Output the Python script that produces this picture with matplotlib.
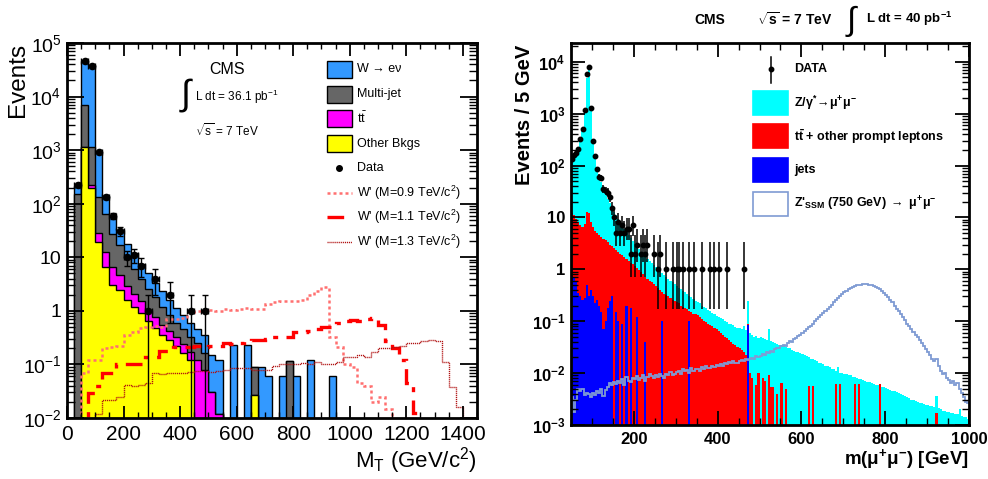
import math
import numpy as np
import matplotlib
matplotlib.use("Agg")
import matplotlib.pyplot as plt
from matplotlib.patches import Rectangle
from matplotlib.lines import Line2D
from matplotlib.ticker import MultipleLocator, FixedLocator, FixedFormatter, LogLocator, NullFormatter

plt.rcParams['font.family'] = ['Liberation Sans', 'DejaVu Sans']
plt.rcParams['mathtext.fontset'] = 'custom'
plt.rcParams['mathtext.rm'] = 'Liberation Sans'
plt.rcParams['mathtext.it'] = 'Liberation Sans:italic'
plt.rcParams['mathtext.bf'] = 'Liberation Sans:bold'
plt.rcParams['mathtext.sf'] = 'Liberation Sans'

# ---------------- LEFT PANEL DATA (M_T, 25 GeV bins, 0-1450) ----------------
mt_edges = np.arange(0, 1451, 25)
other_bkg = [0, 0, 1150, 200, 19.5, 6.6, 3.0, 2.5, 1.6, 1.2, 0.9, 0.65, 0.48, 0.36, 0.28, 0.22, 0.16, 0.12, 0, 0,
             0, 0, 0, 0, 0, 0, 0.027, 0, 0, 0, 0, 0, 0, 0, 0, 0, 0, 0, 0, 0,
             0, 0, 0, 0, 0, 0, 0, 0, 0, 0, 0, 0, 0, 0, 0, 0, 0, 0]
ttbar = [0, 0, 10, 22, 9.5, 6, 3.6, 2.1, 1.3, 0.9, 0.6, 0.4, 0.3, 0.19, 0.14, 0.1, 0.08, 0.05, 0.12, 0.08,
         0.03, 0.012, 0, 0, 0, 0, 0, 0, 0, 0, 0, 0, 0, 0, 0, 0, 0, 0, 0, 0,
         0, 0, 0, 0, 0, 0, 0, 0, 0, 0, 0, 0, 0, 0, 0, 0, 0, 0]
multijet = [0, 155, 5940, 928, 105, 53, 21, 12.4, 6.6, 3.9, 2.5, 1.55, 1.0, 0.65, 0.43, 0.28, 0.21, 0.15, 0.13, 0.08,
            0, 0, 0, 0, 0, 0, 0.063, 0, 0, 0, 0, 0.116, 0, 0, 0, 0, 0, 0, 0, 0,
            0, 0, 0, 0, 0, 0, 0, 0, 0, 0, 0, 0, 0, 0, 0, 0, 0, 0]
w_enu = [0, 58, 38900, 37850, 796, 74, 32, 15, 8.5, 6, 3.5, 2.4, 1.6, 1.1, 0.75, 0.55, 0.4, 0.28, 0.2, 0.19,
         0.12, 0.108, 0, 0.23, 0, 0.23, 0, 0.088, 0.06, 0, 0.06, 0, 0.06, 0, 0.12, 0, 0, 0.06, 0, 0,
         0, 0, 0, 0, 0, 0, 0, 0, 0, 0, 0, 0, 0, 0, 0, 0, 0, 0]
data_mt = [0, 224, 46000, 37000, 910, 135, 59, 31, 10, 11, 7, 1, 4, 0, 2, 0, 0, 1, 0, 1,
           0, 0, 0, 0, 0, 0, 0, 0, 0, 0, 0, 0, 0, 0, 0, 0, 0, 0, 0, 0,
           0, 0, 0, 0, 0, 0, 0, 0, 0, 0, 0, 0, 0, 0, 0, 0, 0, 0]
wprime_09 = [0, 0, 0.068, 0.12, 0.12, 0.2, 0.21, 0.22, 0.36, 0.4, 0.48, 0.5, 0.52, 0.5, 0.7, 0.72, 0.75, 0.95, 1.0, 1.0,
             1.05, 1.0, 1.1, 1.05, 1.1, 1.15, 1.1, 1.1, 1.35, 1.45, 1.5, 1.5, 1.55, 1.6, 2.0, 2.3, 2.8, 0.33, 0.21, 0.1,
             0.09, 0.045, 0.04, 0.02, 0.025, 0.015, 0, 0, 0, 0, 0, 0, 0, 0, 0, 0, 0, 0]
wprime_11 = [0, 0, 0, 0.029, 0.04, 0.068, 0.068, 0.1, 0.1, 0.1, 0.1, 0.14, 0.14, 0.18, 0.18, 0.21, 0.21, 0.21, 0.22, 0.21,
             0.22, 0.22, 0.25, 0.24, 0.25, 0.27, 0.28, 0.28, 0.3, 0.33, 0.33, 0.32, 0.4, 0.41, 0.42, 0.45, 0.5, 0.5, 0.6, 0.65,
             0.68, 0.65, 0.7, 0.75, 0.55, 0.27, 0.2, 0.12, 0.045, 0.0125, 0, 0, 0, 0, 0, 0, 0, 0]
wprime_13 = [0, 0, 0, 0, 0.012, 0.022, 0.022, 0.025, 0.041, 0.04, 0.041, 0.045, 0.068, 0.065, 0.07, 0.068, 0.07, 0.072, 0.075, 0.075,
             0.072, 0.075, 0.078, 0.085, 0.085, 0.085, 0.08, 0.08, 0.08, 0.095, 0.1, 0.1, 0.1, 0.105, 0.1, 0.11, 0.1, 0.1, 0.11, 0.14,
             0.14, 0.15, 0.14, 0.17, 0.2, 0.2, 0.21, 0.22, 0.25, 0.25, 0.27, 0.28, 0.27, 0.11, 0.038, 0.016, 0, 0]

# ---------------- RIGHT PANEL DATA (m_mumu, 5 GeV bins, 50-1000) ----------------
mm_edges = np.arange(50, 1001, 5)
dy_stack = [150, 165, 180, 215, 290, 470, 1100, 4800, 8000, 1200,
            290, 150, 95, 65, 48, 37, 29, 23, 19, 15.5,
            13, 11, 9.5, 8.2, 7.0, 6.1, 5.3, 4.6, 4.0, 3.5,
            3.1, 2.7, 2.5, 2.2, 1.95, 1.75, 1.6, 1.45, 1.3, 1.2,
            1.1, 1.0, 0.92, 0.84, 0.78, 0.72, 0.66, 0.6, 0.56, 0.52,
            0.48, 0.44, 0.41, 0.38, 0.36, 0.33, 0.3, 0.29, 0.27, 0.25,
            0.23, 0.22, 0.2, 0.19, 0.18, 0.165, 0.155, 0.145, 0.135, 0.125,
            0.12, 0.115, 0.11, 0.1, 0.095, 0.09, 0.087, 0.083, 0.078, 0.075,
            0.075, 0.072, 0.08, 0.068, 0.24, 0.06, 0.055, 0.05, 0.052, 0.048,
            0.05, 0.047, 0.045, 0.044, 0.07, 0.042, 0.04, 0.038, 0.036, 0.035,
            0.035, 0.033, 0.032, 0.031, 0.03, 0.028, 0.027, 0.026, 0.025, 0.024,
            0.023, 0.022, 0.021, 0.02, 0.019, 0.019, 0.018, 0.017, 0.016, 0.016,
            0.015, 0.014, 0.014, 0.013, 0.012, 0.012, 0.011, 0.013, 0.01, 0.01,
            0.0098, 0.0095, 0.0092, 0.009, 0.0086, 0.0083, 0.008, 0.0078, 0.0076, 0.0073,
            0.0072, 0.0068, 0.0066, 0.0064, 0.0061, 0.006, 0.0058, 0.0056, 0.0055, 0.0053,
            0.0051, 0.005, 0.0048, 0.0046, 0.0045, 0.0043, 0.0041, 0.004, 0.0038, 0.0037,
            0.0035, 0.0033, 0.0031, 0.003, 0.0029, 0.0028, 0.0027, 0.0026, 0.0025, 0.0024,
            0.0024, 0.0023, 0.0023, 0.0022, 0.0036, 0.0021, 0.002, 0.0019, 0.0019, 0.0018,
            0.0018, 0.0017, 0.0017, 0.0016, 0.0016, 0.002, 0.0015, 0.0014, 0.0014, 0.0013]
tt_stack = [12, 11, 9.5, 8, 7, 6.5, 7.5, 13, 12, 8,
            6.5, 5.5, 5, 4.5, 4.2, 3.9, 3.6, 3.3, 3.0, 2.8,
            2.6, 2.4, 2.2, 2.0, 1.85, 1.7, 1.55, 1.45, 1.35, 1.25,
            1.15, 1.05, 0.95, 0.88, 0.8, 0.72, 0.66, 0.6, 0.56, 0.52,
            0.48, 0.44, 0.4, 0.37, 0.34, 0.32, 0.3, 0.28, 0.26, 0.25,
            0.23, 0.22, 0.2, 0.19, 0.18, 0.17, 0.16, 0.15, 0.14, 0.135,
            0.13, 0.12, 0.11, 0.1, 0.095, 0.09, 0.085, 0.08, 0.075, 0.07,
            0.065, 0.06, 0.055, 0.05, 0.047, 0.043, 0.04, 0.037, 0.035, 0.032,
            0.03, 0.028, 0.025, 0.022, 0.09, 0.01, 0.008, 0, 0.006, 0.01,
            0, 0.008, 0.007, 0, 0.009, 0.0055, 0.0055, 0, 0.004, 0,
            0.0065, 0, 0.005, 0, 0, 0, 0, 0, 0, 0,
            0, 0, 0, 0.0056, 0, 0.0056, 0, 0, 0, 0,
            0, 0, 0, 0, 0, 0, 0.0063, 0, 0.0063, 0,
            0, 0, 0, 0, 0, 0.0063, 0, 0.0063, 0, 0,
            0, 0, 0, 0, 0, 0, 0, 0.0063, 0, 0,
            0, 0, 0, 0, 0, 0, 0, 0, 0, 0,
            0, 0, 0, 0, 0, 0, 0, 0, 0, 0,
            0, 0, 0, 0, 0.0017, 0, 0, 0, 0, 0,
            0, 0, 0, 0, 0, 0, 0, 0, 0, 0]
jets = [0.75, 0.7, 0.6, 0.35, 0.3, 0.26, 0.28, 0.5, 0.3, 0.4,
        0.3, 0.22, 0.26, 0.2, 0.15, 0.07, 0.1, 0.18, 0.25, 0.3,
        0, 0.15, 0.1, 0, 0.09, 0, 0.2, 0, 0.18, 0,
        0, 0.12, 0, 0, 0, 0.04, 0, 0, 0, 0,
        0, 0, 0, 0.1, 0, 0, 0, 0, 0, 0,
        0, 0, 0, 0, 0, 0, 0.1, 0, 0, 0,
        0, 0, 0, 0, 0, 0, 0, 0, 0, 0,
        0, 0, 0, 0, 0, 0, 0, 0, 0, 0,
        0, 0, 0, 0, 0.085, 0, 0, 0, 0, 0] + [0] * 100
zprime = [0.0035, 0.0018, 0.003, 0.0049, 0.0045, 0.005, 0.0038, 0.0042, 0.004, 0.0035,
          0.0042, 0.0038, 0.0045, 0.0041, 0.005, 0.0036, 0.0048, 0.0055, 0.0065, 0.0058,
          0.0068, 0.0062, 0.0072, 0.0065, 0.0078, 0.0058, 0.0085, 0.0072, 0.0068, 0.0082,
          0.0078, 0.0088, 0.0075, 0.0082, 0.0092, 0.0072, 0.0085, 0.0095, 0.0088, 0.008,
          0.0092, 0.0085, 0.0098, 0.0088, 0.0082, 0.0095, 0.009, 0.0105, 0.0092, 0.0098,
          0.0105, 0.011, 0.0098, 0.012, 0.0108, 0.0115, 0.0102, 0.0125, 0.011, 0.0118,
          0.0122, 0.0112, 0.013, 0.0118, 0.0135, 0.0125, 0.0128, 0.014, 0.0132, 0.0145,
          0.014, 0.0152, 0.0138, 0.016, 0.0148, 0.0165, 0.0155, 0.017, 0.016, 0.0158,
          0.0168, 0.018, 0.0172, 0.0185, 0.0178, 0.019, 0.0198, 0.0188, 0.021, 0.02,
          0.0215, 0.023, 0.022, 0.025, 0.024, 0.027, 0.026, 0.029, 0.031, 0.03,
          0.033, 0.035, 0.034, 0.038, 0.041, 0.04, 0.045, 0.048, 0.052, 0.055,
          0.06, 0.064, 0.07, 0.076, 0.082, 0.09, 0.1, 0.108, 0.12, 0.13,
          0.145, 0.16, 0.175, 0.19, 0.21, 0.23, 0.255, 0.28, 0.3, 0.33,
          0.36, 0.38, 0.41, 0.43, 0.45, 0.47, 0.49, 0.5, 0.51, 0.52,
          0.52, 0.53, 0.51, 0.5, 0.48, 0.46, 0.44, 0.41, 0.38, 0.35,
          0.32, 0.29, 0.26, 0.23, 0.2, 0.175, 0.155, 0.135, 0.12, 0.105,
          0.09, 0.08, 0.07, 0.062, 0.055, 0.049, 0.043, 0.038, 0.033, 0.029,
          0.025, 0.022, 0.019, 0.017, 0.019, 0.014, 0.011, 0.0095, 0.01, 0.008,
          0.0075, 0.0065, 0.007, 0.0058, 0.0064, 0.005, 0.0042, 0.0035, 0.0028, 0.0026]
data_mm = [136, 160, 178, 204, 327, 500, 1200, 5700, 8000, 1300,
           300, 154, 85, 61, 58, 36, 33, 30, 25, 15,
           10, 5, 8, 5, 7, 5, 6, 6, 2, 7,
           2, 3, 0, 2, 3, 2, 3, 0, 0, 2,
           0, 1, 2, 0, 0, 1, 0, 0, 1, 0,
           1, 1, 0, 1, 0, 0, 1, 0, 1, 0,
           0, 0, 1, 0, 0, 0, 1, 0, 1, 0,
           1, 0, 0, 0, 1, 0, 0, 0, 0, 0,
           0, 0, 1, 0, 0, 0, 0, 0, 0, 0] + [0] * 100

W, H = 988, 479
fig = plt.figure(figsize=(W / 100, H / 100), dpi=100)


def rect(x0, x1, y0, y1):
    return [x0 / W, 1 - y1 / H, (x1 - x0) / W, (y1 - y0) / H]


def fx(x):
    return x / W


def fy(y):
    return 1 - y / H


def poisson_interval(n):
    if n > 30:
        return n - math.sqrt(n), n + math.sqrt(n)
    a = 0.158655

    def cdf(k, mu):
        if k < 0:
            return 0.0
        return sum(math.exp(-mu + i * math.log(mu) - math.lgamma(i + 1)) for i in range(k + 1))

    def solve(f, lo, hi):
        for _ in range(80):
            mid = 0.5 * (lo + hi)
            if f(mid) > 0:
                lo = mid
            else:
                hi = mid
        return 0.5 * (lo + hi)
    low = 0.0 if n == 0 else solve(lambda mu: a - (1 - cdf(n - 1, mu)), 1e-9, n + 50)
    up = solve(lambda mu: cdf(n, mu) - a, 1e-9, n + 60)
    return low, up


def log_ticks(ax, lo, hi, bold=False):
    locs = [10.0 ** k for k in range(lo, hi + 1)]
    labels = []
    for k in range(lo, hi + 1):
        if k == 0:
            labels.append('1')
        elif k == 1:
            labels.append('10')
        else:
            if bold:
                labels.append(r'$\mathbf{10^{%d}}$' % k)
            else:
                labels.append(r'$\mathregular{10^{%d}}$' % k)
    ax.yaxis.set_major_locator(FixedLocator(locs))
    ax.yaxis.set_major_formatter(FixedFormatter(labels))
    ax.yaxis.set_minor_locator(LogLocator(base=10, subs=np.arange(2, 10), numticks=30))
    ax.yaxis.set_minor_formatter(NullFormatter())


# ================= LEFT PANEL =================
axL = fig.add_axes(rect(67, 477, 43, 418))
axL.set_yscale('log')
c1 = np.array(other_bkg, float)
c2 = c1 + np.array(ttbar, float)
c3 = c2 + np.array(multijet, float)
c4 = c3 + np.array(w_enu, float)
FLOOR = 1e-6
for cum, col in [(c4, '#3399ff'), (c3, '#666666'), (c2, '#ff00ff'), (c1, '#ffff00')]:
    v = np.where(cum > 0, cum, FLOOR)
    axL.stairs(v, mt_edges, fill=True, color=col, baseline=FLOOR, lw=0)
    axL.stairs(v, mt_edges, color='black', lw=1.0, baseline=FLOOR)

for vals, col, ls, lw in [(wprime_09, '#ff7070', (0, (1.2, 1.2)), 1.8),
                          (wprime_11, '#ff0000', (0, (5, 2.5, 1.5, 2.5)), 2.4),
                          (wprime_13, '#b01010', (0, (0.8, 0.6)), 1.0)]:
    v = np.array(vals, float)
    v = np.where(v > 0, v, FLOOR)
    axL.stairs(v, mt_edges, color=col, lw=lw, linestyle=ls, baseline=None)

d = np.array(data_mt, float)
cen = 0.5 * (mt_edges[:-1] + mt_edges[1:])
m = d > 0
err_lo = np.where(d[m] - np.sqrt(d[m]) > 0, np.sqrt(d[m]), d[m] - 1e-5)
err_hi = np.sqrt(d[m])
axL.errorbar(cen[m], d[m], yerr=[err_lo, err_hi], xerr=12.5, fmt='o', color='black',
             ms=4.5, lw=1.0, capsize=2, capthick=1.0, zorder=5)

axL.set_xlim(0, 1450)
axL.set_ylim(1e-2, 1e5)
axL.xaxis.set_major_locator(MultipleLocator(200))
axL.xaxis.set_minor_locator(MultipleLocator(50))
log_ticks(axL, -2, 5, bold=False)
axL.tick_params(which='both', direction='in', top=True, right=True)
axL.tick_params(axis='y', which='major', length=12, width=1.3, pad=4, labelsize=14)
axL.tick_params(axis='y', which='minor', length=6, width=1.0)
axL.tick_params(axis='x', which='major', length=9, width=1.3, pad=5, labelsize=15)
axL.tick_params(axis='x', which='minor', length=4.5, width=1.0)
for s in axL.spines.values():
    s.set_linewidth(2.0)

fig.text(fx(7), fy(43), 'Events', rotation=90, ha='left', va='top', fontsize=17.5)
fig.text(fx(477), fy(461), r'M$_\mathregular{T}$ (GeV/c$^\mathregular{2}$)', ha='right', va='center', fontsize=16)

fig.text(fx(227), fy(70), 'CMS', ha='center', va='center', fontsize=11.5)
fig.text(fx(186), fy(95), '\u222b', ha='center', va='center', fontsize=26)
fig.text(fx(195), fy(97), r'L dt = 36.1 pb$^\mathregular{-1}$', ha='left', va='center', fontsize=8.5)
fig.text(fx(195), fy(131), r'$\sqrt{\mathregular{s}}$ = 7 TeV', ha='left', va='center', fontsize=8.5)

leg_items = [('#3399ff', 'W \u2192 e\u03bd', 69.5), ('#666666', 'Multi-jet', 94.2),
             ('#ff00ff', r'$\mathregular{t\bar{t}}$', 118.7), ('#ffff00', 'Other Bkgs', 143.5)]
for col, lab, yc in leg_items:
    fig.add_artist(Rectangle((fx(327.3), fy(yc + 8.5)), 24.4 / W, 17 / H, transform=fig.transFigure,
                             facecolor=col, edgecolor='black', lw=1.0))
    fig.text(fx(357), fy(yc), lab, ha='left', va='center', fontsize=9)
fig.add_artist(Line2D([fx(339.3)], [fy(168.3)], marker='o', ms=4, color='black', transform=fig.transFigure))
fig.text(fx(357), fy(168.3), 'Data', ha='left', va='center', fontsize=9)
for col, ls, lw, lab, yc in [('#ff7070', (0, (1.2, 1.2)), 1.8, r"W' (M=0.9 TeV/c$^\mathregular{2}$)", 192.7),
                             ('#ff0000', (0, (5, 2.5, 1.5, 2.5)), 2.4, r"W' (M=1.1 TeV/c$^\mathregular{2}$)", 217.3),
                             ('#b01010', (0, (0.8, 0.6)), 1.0, r"W' (M=1.3 TeV/c$^\mathregular{2}$)", 241.7)]:
    fig.add_artist(Line2D([fx(327.3), fx(351.7)], [fy(yc), fy(yc)], color=col, lw=lw, linestyle=ls,
                          transform=fig.transFigure))
    fig.text(fx(357), fy(yc), lab, ha='left', va='center', fontsize=9)

# ================= RIGHT PANEL =================
axR = fig.add_axes(rect(571, 969, 43, 425))
axR.set_yscale('log')
FL = 1e-6
for vals, col in [(dy_stack, '#00ffff'), (tt_stack, '#ff0000'), (jets, '#0000ff')]:
    v = np.array(vals, float)
    v = np.where(v > 0, v, FL)
    axR.stairs(v, mm_edges, fill=True, color=col, baseline=FL, lw=0)
zp = np.array(zprime, float)
axR.stairs(zp, mm_edges, color='#7f9bd3', lw=1.3, baseline=None)

dm = np.array(data_mm, float)
cm = 0.5 * (mm_edges[:-1] + mm_edges[1:])
mk = dm > 0
lo_e, hi_e = [], []
for n in dm[mk]:
    lo, up = poisson_interval(int(n))
    lo_e.append(n - max(lo, 1e-5))
    hi_e.append(up - n)
axR.errorbar(cm[mk], dm[mk], yerr=[lo_e, hi_e], fmt='o', color='black', ms=3.2, lw=1.1,
             capsize=0, zorder=5)

axR.set_xlim(50, 1000)
axR.set_ylim(1e-3, 2.3e4)
axR.xaxis.set_major_locator(FixedLocator([200, 400, 600, 800, 1000]))
axR.xaxis.set_minor_locator(MultipleLocator(50))
log_ticks(axR, -3, 4, bold=True)
axR.tick_params(which='both', direction='in', top=True, right=True, labelsize=12)
axR.tick_params(axis='y', which='major', length=10, width=1.3, pad=4)
axR.tick_params(axis='y', which='minor', length=5, width=1.0)
axR.tick_params(axis='x', which='major', length=10, width=1.3, pad=5)
axR.tick_params(axis='x', which='minor', length=5, width=1.0)
for lab in axR.get_xticklabels() + axR.get_yticklabels():
    lab.set_fontweight('bold')
for s in axR.spines.values():
    s.set_linewidth(2.0)

fig.text(fx(515), fy(45), 'Events / 5 GeV', rotation=90, ha='left', va='top', fontsize=14.5, fontweight='bold')
fig.text(fx(969), fy(459), r'm($\mathbf{\mu^{+}\mu^{-}}$) [GeV]', ha='right', va='center',
         fontsize=13.5, fontweight='bold')

fig.text(fx(710), fy(20), 'CMS', ha='center', va='center', fontsize=10, fontweight='bold')
fig.text(fx(757), fy(20), r'$\sqrt{\mathbf{s}}$ = 7 TeV', ha='left', va='center', fontsize=10, fontweight='bold')
fig.text(fx(851), fy(21), '\u222b', ha='center', va='center', fontsize=24)
fig.text(fx(866), fy(19), r'L dt = 40 pb$^{\mathbf{-1}}$', ha='left', va='center', fontsize=9.5, fontweight='bold')

# right legend
fig.add_artist(Line2D([fx(770.7), fx(770.7)], [fy(56.7), fy(83.3)], color='black', lw=1.1, transform=fig.transFigure))
fig.add_artist(Line2D([fx(770.7)], [fy(69.3)], marker='o', ms=3.2, color='black', transform=fig.transFigure))
fig.text(fx(794), fy(69.3), 'DATA', ha='left', va='center', fontsize=9, fontweight='bold')
r_items = [('#00ffff', None, r'Z/$\mathbf{\gamma^{*}\!\rightarrow\!\mu^{+}\mu^{-}}$', 103),
           ('#ff0000', None, r'$\mathbf{t\bar{t}}$ + other prompt leptons', 136.3),
           ('#0000ff', None, 'jets', 169.7),
           ('white', '#7f9bd3', r"Z'$_{\mathbf{SSM}}$ (750 GeV) $\mathbf{\rightarrow\ \mu^{+}\mu^{-}}$", 203.7)]
for col, ec, lab, yc in r_items:
    fig.add_artist(Rectangle((fx(752.7), fy(yc + 12)), 35.6 / W, 24 / H, transform=fig.transFigure,
                             facecolor=col, edgecolor=ec if ec else col, lw=1.2))
    fig.text(fx(794), fy(yc), lab, ha='left', va='center', fontsize=9, fontweight='bold')

fig.savefig('out.png', dpi=100)
